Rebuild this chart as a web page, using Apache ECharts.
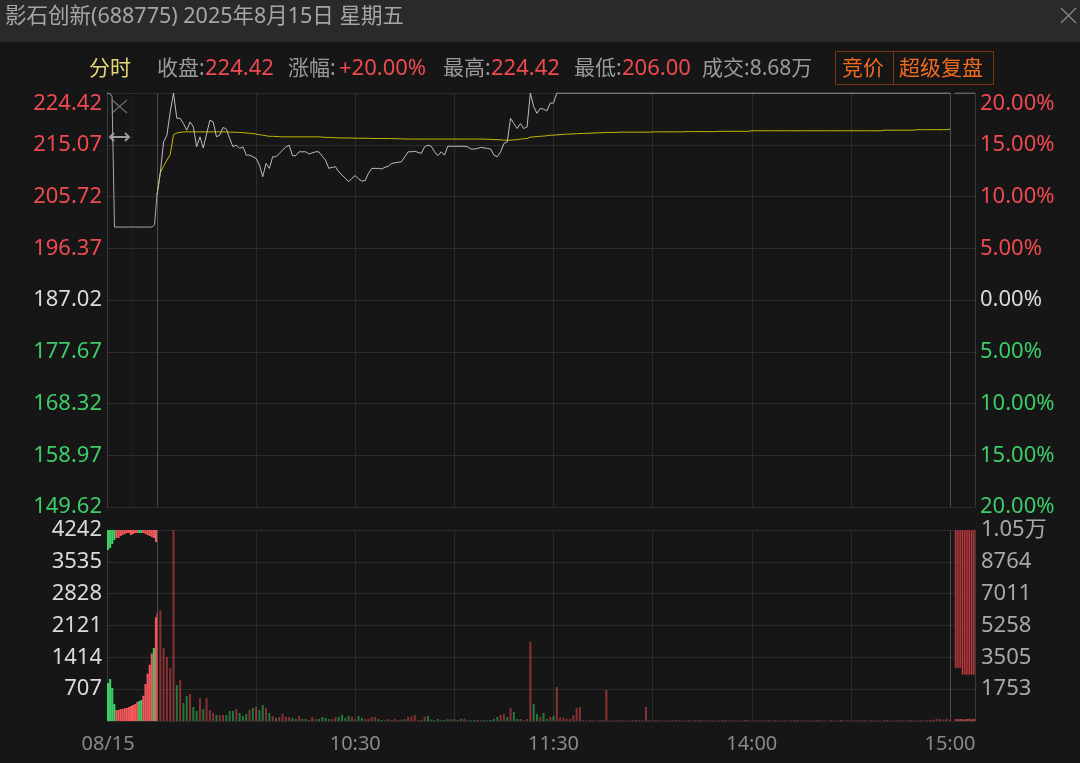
<!DOCTYPE html>
<html><head><meta charset="utf-8">
<script src="https://cdn.jsdelivr.net/npm/echarts@6/dist/echarts.min.js"></script>
<style>html,body{margin:0;padding:0;background:#161616;}#c{width:1080px;height:763px;}</style>
</head><body><div id="c"></div>
<script>
// ---------------- data ----------------
const stockTitle = '影石创新(688775) 2025年8月15日 星期五';
const prevClose = 187.02;
const closeText = '224.42', changeText = '+20.00%', highText = '224.42', lowText = '206.00', volText = '8.68万';
const tradeDate = '08/15';
const timeTickLabels = ['10:30', '11:30', '14:00', '15:00'];
const volLeftLabels = ['707', '1414', '2121', '2828', '3535', '4242'];
const volRightLabels = ['1753', '3505', '5258', '7011', '8764', '1.05万'];

// call auction 9:15-9:25 (30 s steps)
const auctionTimes = ['09:15:00','09:15:30','09:16:00','09:16:30','09:17:00','09:17:30','09:18:00','09:18:30','09:19:00','09:19:30','09:20:00',
  '09:20:30','09:21:00','09:21:30','09:22:00','09:22:30','09:23:00','09:23:30','09:24:00','09:24:30','09:25:00'];
const auctionPrice = [224.42,224.42,223.8,200.2,200.2,200.2,200.2,200.2,200.2,200.2,200.2,
  200.2,200.2,200.2,200.2,200.2,200.2,200.2,200.2,200.6,206.0];
const auctionVolTimes = ['09:15:00','09:15:25','09:15:50','09:16:15','09:16:40','09:17:05','09:17:30','09:17:55','09:18:20','09:18:45','09:19:10','09:19:35',
  '09:20:00','09:20:25','09:20:50','09:21:15','09:21:40','09:22:05','09:22:30','09:22:55','09:23:20','09:23:45','09:24:10','09:24:35'];
const auctionMatchVol = [844,932,733,380,244,244,266,266,289,289,311,333,355,377,422,444,466,560,820,1050,1250,1500,1620,2300];
const auctionMatchDir = [-1,-1,-1,-1,1,1,1,1,1,1,1,1,1,1,1,-1,-1,1,1,1,1,1,-1,1];
const auctionQueueVol = [444,400,311,222,178,178,133,111,89,67,67,111,89,67,67,67,67,67,89,111,133,155,178,266];
const auctionQueueDir = [-1,-1,-1,-1,1,1,1,1,1,1,1,1,1,1,1,-1,-1,1,1,1,1,1,1,1];

// minute categories 09:30-11:30, 13:01-15:00
const minuteTimes = [];
(function(){
  const f = m => String(Math.floor(m/60)).padStart(2,'0') + ':' + String(m%60).padStart(2,'0');
  for (let m = 570; m <= 690; m++) minuteTimes.push(f(m));
  for (let m = 781; m <= 900; m++) minuteTimes.push(f(m));
})();

const minutePrice = [
 206.0,210.0,215.6,216.8,221.0,224.42,219.85,219.85,218.9,217.7,
 219.2,218.3,214.7,216.5,214.5,217.0,219.5,219.2,216.5,216.8,
 218.2,217.9,216.2,214.7,215.0,214.4,214.7,213.2,213.2,212.9,
 212.6,211.4,209.3,211.7,210.8,212.9,212.9,213.5,214.1,214.7,
 215.0,213.1,213.1,213.8,213.8,213.8,213.4,213.6,213.8,213.8,
 213.0,212.3,210.8,211.0,211.1,210.2,209.6,209.0,208.4,209.0,
 209.5,208.9,208.5,208.6,209.9,210.8,210.8,210.8,210.7,211.0,
 211.2,211.7,211.8,211.9,212.0,212.9,213.8,213.8,213.9,213.7,
 213.5,214.7,215.0,214.8,213.8,213.1,213.8,213.2,214.8,214.8,
 214.8,214.8,214.8,214.8,214.7,214.3,214.3,214.4,214.6,214.5,
 214.4,214.3,213.2,212.9,213.8,215.3,215.6,219.85,218.9,218.0,
 218.9,218.0,218.3,224.42,221.95,220.75,221.65,221.5,221.2,222.6,
 222.6,
 224.42,224.42,224.42,224.42,224.42,224.42,224.42,224.42,224.42,224.42,
 224.42,224.42,224.42,224.42,224.42,224.42,224.42,224.42,224.42,224.42,
 224.42,224.42,224.42,224.42,224.42,224.42,224.42,224.42,224.42,224.42,
 224.42,224.42,224.42,224.42,224.42,224.42,224.42,224.42,224.42,224.42,
 224.42,224.42,224.42,224.42,224.42,224.42,224.42,224.42,224.42,224.42,
 224.42,224.42,224.42,224.42,224.42,224.42,224.42,224.42,224.42,224.42,
 224.42,224.42,224.42,224.42,224.42,224.42,224.42,224.42,224.42,224.42,
 224.42,224.42,224.42,224.42,224.42,224.42,224.42,224.42,224.42,224.42,
 224.42,224.42,224.42,224.42,224.42,224.42,224.42,224.42,224.42,224.42,
 224.42,224.42,224.42,224.42,224.42,224.42,224.42,224.42,224.42,224.42,
 224.42,224.42,224.42,224.42,224.42,224.42,224.42,224.42,224.42,224.42,
 224.42,224.42,224.42,224.42,224.42,224.42,224.42,224.42,224.42,224.42
];

const minuteAvg = [
 206.0,210.0,211.2,212.3,213.3,216.9,217.2,217.3,217.4,217.4,
 217.4,217.4,217.4,217.4,217.4,217.4,217.4,217.4,217.4,217.4,
 217.4,217.4,217.35,217.35,217.3,217.3,217.25,217.2,217.15,217.1,
 217.0,216.9,216.8,216.7,216.6,216.6,216.55,216.55,216.5,216.5,
 216.5,216.5,216.5,216.5,216.5,216.5,216.5,216.5,216.5,216.5,
 216.45,216.4,216.4,216.35,216.35,216.3,216.3,216.3,216.3,216.3,
 216.25,216.25,216.25,216.25,216.25,216.2,216.2,216.2,216.2,216.2,
 216.2,216.2,216.15,216.15,216.15,216.1,216.1,216.1,216.1,216.1,
 216.1,216.1,216.1,216.1,216.1,216.1,216.1,216.1,216.1,216.1,
 216.1,216.1,216.1,216.1,216.1,216.1,216.1,216.1,216.1,216.1,
 216.05,216.05,216.0,216.0,215.95,215.9,215.9,215.9,215.95,216.0,
 216.1,216.15,216.2,216.45,216.5,216.55,216.6,216.65,216.7,216.8,
 216.8,216.85,216.9,216.95,217.0,217.0,217.05,217.05,217.1,217.1,
 217.15,217.15,217.2,217.2,217.25,217.25,217.3,217.3,217.3,217.3,
 217.35,217.35,217.35,217.35,217.35,217.35,217.35,217.35,217.35,217.35,
 217.4,217.4,217.4,217.4,217.4,217.4,217.4,217.4,217.4,217.4,
 217.45,217.45,217.45,217.45,217.45,217.45,217.45,217.45,217.45,217.45,
 217.5,217.5,217.5,217.5,217.5,217.5,217.5,217.5,217.5,217.5,
 217.6,217.6,217.6,217.6,217.6,217.6,217.6,217.6,217.6,217.6,
 217.6,217.6,217.6,217.6,217.6,217.6,217.6,217.6,217.6,217.6,
 217.6,217.6,217.6,217.6,217.6,217.6,217.6,217.6,217.6,217.6,
 217.6,217.6,217.6,217.6,217.6,217.6,217.6,217.6,217.6,217.6,
 217.7,217.7,217.7,217.7,217.7,217.7,217.7,217.7,217.7,217.7,
 217.8,217.8,217.8,217.8,217.8,217.8,217.8,217.8,217.8,217.8,
 217.9
];

const minuteVol = [
 2400,2464,1620,1420,1177,4242,800,910,400,555,
 600,311,222,510,266,510,244,178,133,133,
 133,133,222,222,266,178,111,155,244,289,
 311,244,355,289,178,111,67,89,155,89,
 89,67,44,111,44,44,22,89,44,44,
 89,67,44,44,89,89,133,67,111,89,
 44,111,67,44,44,89,89,44,22,15,
 44,22,44,22,33,44,89,100,133,15,
 22,89,111,33,15,44,15,22,44,33,
 44,22,44,55,15,15,22,22,15,15,
 15,22,44,89,133,155,89,289,200,44,
 44,15,44,1760,377,155,89,178,44,89,
 111,755,75,75,44,44,126,289,311,15,
 10,22,15,10,15,22,688,15,10,15,
 22,10,15,10,15,22,15,12,311,15,
 10,22,15,10,18,12,10,22,15,10,
 12,18,10,15,22,12,10,15,18,10,
 12,15,22,10,15,12,18,10,22,15,
 10,12,15,18,10,22,12,15,10,18,
 15,10,12,22,15,10,18,12,15,10,
 22,15,12,10,18,15,10,22,12,15,
 10,18,12,15,22,10,15,12,18,10,
 15,22,12,10,15,18,10,12,22,15,
 10,18,12,15,22,30,44,40,33,44,
 30
];
const minuteDir = [
 1,1,1,1,1,1,-1,1,-1,-1,
 1,-1,-1,1,-1,1,1,1,-1,1,
 1,-1,-1,-1,1,-1,-1,-1,1,-1,
 1,-1,-1,1,-1,1,-1,1,1,1,
 1,-1,-1,1,-1,-1,-1,1,1,-1,
 -1,-1,-1,1,1,-1,-1,-1,-1,1,
 1,-1,-1,1,1,1,1,-1,-1,-1,
 1,1,1,1,-1,1,1,1,1,1,
 -1,1,-1,-1,-1,-1,-1,-1,1,-1,
 1,-1,-1,1,-1,-1,-1,1,1,-1,
 -1,-1,-1,-1,1,1,-1,1,-1,-1,
 1,-1,1,1,-1,-1,1,-1,-1,1,
 -1,1,1,1,1,1,1,1,1,1,
 1,1,1,1,1,1,1,1,1,1,
 1,1,1,1,1,1,1,1,1,1,
 1,1,1,1,1,1,1,1,1,1,
 1,1,1,1,1,1,1,1,1,1,
 1,1,1,1,1,1,1,1,1,1,
 1,1,1,1,1,1,1,1,1,1,
 1,1,1,1,1,1,1,1,1,1,
 1,1,1,1,1,1,1,1,1,1,
 1,1,1,1,1,1,1,1,1,1,
 1,1,1,1,1,1,1,1,1,1,
 1,1,1,1,1,1,1,1,1,1,
 1
];

// after-hours fixed-price session
const postTimes = ['15:05','15:07','15:10','15:12','15:15','15:17','15:20','15:22','15:25','15:27','15:30'];
const postPrice = [null,null,224.42,224.42,224.42,224.42,224.42,224.42,224.42,224.42,224.42];
const postQueueVol = [null,null,7600,7600,7600,7980,7980,7980,7980,7980,7980];
const postVol = [null,null,110,90,110,100,90,110,120,100,110];

// ---------------- chart ----------------
const FONT = '"Noto Sans","Noto Sans CJK SC",sans-serif';
const RED = '#ef4a50', GREEN = '#3ccc68', WHITE = '#dadada', GRAY = '#9a9a9a';
const GRID_C = '#2b2b2b', BORDER_C = '#3a3a3a', BRIGHT_V = '#4c4c4c';
const pMin = prevClose * 0.8, pMax = prevClose * 1.2;
const L = 107, M0 = 157, M1 = 950, R = 975, PT = 93, PH = 414, VT = 530, VH = 191;
const vColors = [BRIGHT_V, GRID_C, GRID_C, GRID_C, GRID_C, GRID_C, GRID_C, GRID_C, BRIGHT_V];

const labelRich = {
  r: {color: RED, fontSize: 22, fontFamily: FONT},
  g: {color: GREEN, fontSize: 22, fontFamily: FONT},
  w: {color: WHITE, fontSize: 22, fontFamily: FONT},
  rt: {color: RED, fontSize: 22, fontFamily: FONT, padding: [22, 0, 0, 0]}
};
function tag(v) { return v > 0 ? (v === 20 ? 'rt' : 'r') : (v < 0 ? 'g' : 'w'); }
const priceLabel = v => '{' + tag(v) + '|' + (prevClose * (1 + v / 100)).toFixed(2) + '}';
const pctLabel = v => '{' + tag(v) + '|' + Math.abs(v).toFixed(2) + '%}';
const hid = {axisLine: {show: false}, axisTick: {show: false}, axisLabel: {show: false}};
const hLine = {show: true, lineStyle: {color: GRID_C, width: 1}};
const xLab = {show: true, color: '#8a8a8a', fontSize: 20, fontFamily: FONT, margin: 13};
const dotted = {show: true, lineStyle: {color: '#3a3a3a', type: [1, 3], width: 1}};

const chart = echarts.init(document.getElementById('c'), null, {renderer: 'canvas'});

function txt(text, x, y, color, size, extra) {
  return Object.assign({type: 'text', x: x, y: y, silent: true,
    style: {text: text, fill: color, font: size + 'px ' + FONT, textAlign: 'left', textVerticalAlign: 'middle', align: 'left', verticalAlign: 'middle'}}, extra || {});
}
function seg(x1, y1, x2, y2, color, w) {
  return {type: 'line', silent: true, shape: {x1: x1, y1: y1, x2: x2, y2: y2}, style: {stroke: color, lineWidth: w}};
}

const option = {
  backgroundColor: '#161616',
  animation: false,
  grid: [
    {left: L, top: PT, width: M0 - L, height: PH, outerBoundsMode: 'none'},
    {left: M0, top: PT, width: M1 - M0, height: PH, outerBoundsMode: 'none'},
    {left: M1, top: PT, width: R - M1, height: PH, outerBoundsMode: 'none'},
    {left: L, top: VT, width: M0 - L, height: VH, outerBoundsMode: 'none'},
    {left: M0, top: VT, width: M1 - M0, height: VH, outerBoundsMode: 'none'},
    {left: M1, top: VT, width: R - M1, height: VH, outerBoundsMode: 'none'}
  ],
  xAxis: [
    Object.assign({gridIndex: 0, type: 'category', data: auctionTimes, boundaryGap: false,
      splitLine: Object.assign({interval: i => i === 10}, dotted)}, hid),
    Object.assign({gridIndex: 1, type: 'category', data: minuteTimes, boundaryGap: false,
      splitLine: {show: true, interval: i => i % 30 === 0, lineStyle: {color: vColors, width: 1}}}, hid),
    Object.assign({gridIndex: 2, type: 'category', data: postTimes, boundaryGap: false, splitLine: {show: false}}, hid),
    {gridIndex: 3, type: 'category', data: auctionVolTimes, boundaryGap: true,
      axisLine: {show: false}, axisTick: {show: false},
      axisLabel: Object.assign({interval: i => i === 0, formatter: (v, i) => i === 0 ? tradeDate : ''}, xLab),
      splitLine: Object.assign({interval: i => i === 12}, dotted)},
    {gridIndex: 4, type: 'category', data: minuteTimes, boundaryGap: false,
      axisLine: {show: false}, axisTick: {show: false},
      axisLabel: Object.assign({interval: (i, v) => timeTickLabels.indexOf(v) >= 0}, xLab),
      splitLine: {show: true, interval: i => i % 30 === 0, lineStyle: {color: vColors, width: 1}}},
    Object.assign({gridIndex: 5, type: 'category', data: postTimes, boundaryGap: true, splitLine: {show: false}}, hid)
  ],
  yAxis: [
    {gridIndex: 0, type: 'value', position: 'left', min: -20, max: 20, interval: 5,
      axisLine: {show: true, lineStyle: {color: BORDER_C}}, axisTick: {show: false}, splitLine: hLine,
      axisLabel: {margin: 5, formatter: priceLabel, rich: labelRich}},
    {gridIndex: 0, type: 'value', position: 'right', min: pMin, max: pMax, show: false},
    Object.assign({gridIndex: 1, type: 'value', position: 'left', min: -20, max: 20, interval: 5, splitLine: hLine}, hid),
    {gridIndex: 1, type: 'value', position: 'right', min: pMin, max: pMax, show: false},
    {gridIndex: 2, type: 'value', position: 'right', min: -20, max: 20, interval: 5,
      axisLine: {show: true, lineStyle: {color: BORDER_C}}, axisTick: {show: false}, splitLine: hLine,
      axisLabel: {margin: 5, formatter: pctLabel, rich: labelRich}},
    {gridIndex: 2, type: 'value', position: 'left', min: pMin, max: pMax, show: false},
    {gridIndex: 3, type: 'value', position: 'left', min: 0, max: 4242, interval: 707,
      axisLine: {show: true, lineStyle: {color: BORDER_C}}, axisTick: {show: false}, splitLine: hLine,
      axisLabel: {margin: 5, showMinLabel: false, color: WHITE, fontSize: 22, fontFamily: FONT,
        formatter: (v, i) => i > 0 ? volLeftLabels[i - 1] : ''}},
    {gridIndex: 3, type: 'value', position: 'right', min: 0, max: 4242, inverse: true, show: false},
    Object.assign({gridIndex: 4, type: 'value', position: 'left', min: 0, max: 4242, interval: 707, splitLine: hLine}, hid),
    {gridIndex: 5, type: 'value', position: 'right', min: 0, max: 10518, interval: 1753,
      axisLine: {show: true, lineStyle: {color: BORDER_C}}, axisTick: {show: false}, splitLine: hLine,
      axisLabel: {margin: 6, showMinLabel: false, color: '#a8a8a8', fontSize: 22, fontFamily: FONT,
        formatter: (v, i) => i > 0 ? volRightLabels[i - 1] : ''}},
    {gridIndex: 5, type: 'value', position: 'left', min: 0, max: 10518, inverse: true, show: false}
  ],
  series: [
    {type: 'line', xAxisIndex: 0, yAxisIndex: 1, data: auctionPrice, showSymbol: false, symbol: 'none',
      lineStyle: {color: '#a8a8a8', width: 1}, z: 5},
    {type: 'line', xAxisIndex: 1, yAxisIndex: 3, data: minuteAvg, showSymbol: false, symbol: 'none',
      lineStyle: {color: '#c4b900', width: 1}, z: 4},
    {type: 'line', xAxisIndex: 1, yAxisIndex: 3, data: minutePrice, showSymbol: false, symbol: 'none',
      lineStyle: {color: '#bdbdbd', width: 1}, z: 5},
    {type: 'line', xAxisIndex: 2, yAxisIndex: 5, data: postPrice, showSymbol: false, symbol: 'none',
      lineStyle: {color: '#9a9a9a', width: 1}, z: 5},
    {type: 'bar', xAxisIndex: 3, yAxisIndex: 6, data: auctionMatchVol, barCategoryGap: '0%', barGap: '-100%',
      itemStyle: {color: p => auctionMatchDir[p.dataIndex] > 0 ? '#f25a5c' : '#3ed066'}},
    {type: 'bar', xAxisIndex: 3, yAxisIndex: 7, data: auctionQueueVol, barCategoryGap: '0%', barGap: '-100%',
      itemStyle: {color: p => auctionQueueDir[p.dataIndex] > 0 ? '#f25a5c' : '#3ed066'}},
    {type: 'bar', xAxisIndex: 4, yAxisIndex: 8, data: minuteVol, barWidth: 2,
      itemStyle: {color: p => minuteDir[p.dataIndex] > 0 ? 'rgba(232,72,78,0.55)' : 'rgba(50,200,92,0.55)'}},
    {type: 'bar', xAxisIndex: 5, yAxisIndex: 10, data: postQueueVol, barCategoryGap: '0%', barGap: '-100%',
      itemStyle: {color: '#e3484e', borderColor: '#8e2c31', borderWidth: 0.6}},
    {type: 'bar', xAxisIndex: 5, yAxisIndex: 9, data: postVol, barCategoryGap: '20%', barGap: '-100%',
      itemStyle: {color: '#c9434a'}}
  ],
  graphic: [
    {type: 'rect', silent: true, shape: {x: 0, y: 0, width: 1080, height: 42}, style: {fill: '#2a2a2a'}, z: -10},
    txt(stockTitle, 5, 17, '#a6a6a6', 21.5),
    seg(1061, 8, 1076, 23, '#8a8a8a', 1.3),
    seg(1076, 8, 1061, 23, '#8a8a8a', 1.3),
    txt('分时', 89, 69, '#e3d777', 21),
    txt('收盘:', 157, 69, GRAY, 21),
    txt(closeText, 205, 69, RED, 22),
    txt('涨幅:', 288, 69, GRAY, 21),
    txt(changeText, 339, 69, RED, 22),
    txt('最高:', 443, 69, GRAY, 21),
    txt(highText, 491, 69, RED, 22),
    txt('最低:', 574, 69, GRAY, 21),
    txt(lowText, 622, 69, RED, 22),
    txt('成交:' + volText, 702, 69, GRAY, 21),
    {type: 'rect', silent: true, shape: {x: 835.5, y: 51.5, width: 158, height: 33},
      style: {fill: 'none', stroke: '#7c3612', lineWidth: 1}},
    seg(893.5, 51.5, 893.5, 84.5, '#7c3612', 1),
    txt('竞价', 842, 69, '#ee6a1f', 21),
    txt('超级复盘', 899, 69, '#ee6a1f', 21),
    seg(112, 100, 127, 113, '#6e6e6e', 1.2),
    seg(127, 100, 112, 113, '#6e6e6e', 1.2),
    {type: 'polyline', silent: true, shape: {points: [[110, 137], [129, 137]]}, style: {stroke: '#9a9a9a', lineWidth: 2, fill: 'none'}},
    {type: 'polyline', silent: true, shape: {points: [[114, 133], [110, 137], [114, 141]]}, style: {stroke: '#9a9a9a', lineWidth: 2, fill: 'none'}},
    {type: 'polyline', silent: true, shape: {points: [[125, 133], [129, 137], [125, 141]]}, style: {stroke: '#9a9a9a', lineWidth: 2, fill: 'none'}}
  ]
};
chart.setOption(option);
</script>
</body></html>
